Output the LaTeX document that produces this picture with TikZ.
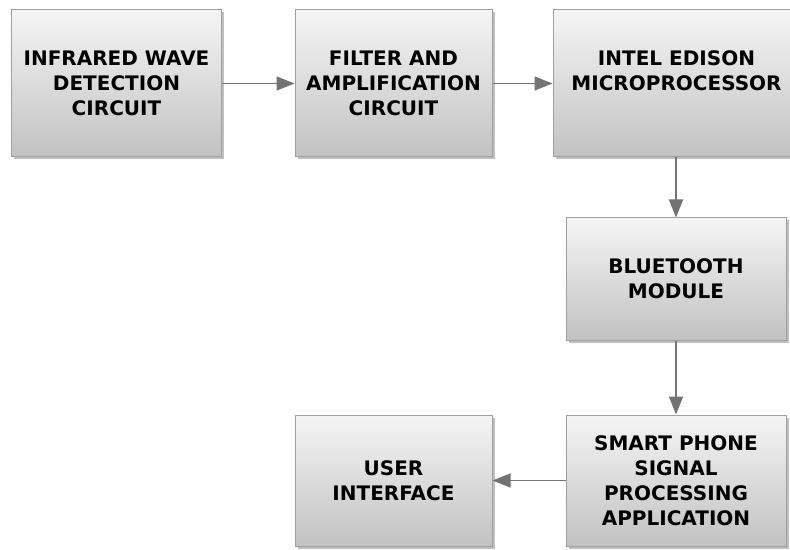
\documentclass[tikz,border=0pt]{standalone}
\usepackage{fontspec}
\setmainfont{DejaVu Sans}
\usetikzlibrary{arrows.meta,shadows}
\begin{document}
\begin{tikzpicture}[x=1bp,y=-1bp,
  blk/.style={draw=gray!75,line width=1bp,top color=white!96!black,bottom color=black!24,
    drop shadow={shadow xshift=2.5bp,shadow yshift=-2.5bp,fill=black!45,opacity=0.55},
    align=center,font=\bfseries\fontsize{20bp}{25bp}\selectfont,text=black,inner sep=0pt},
  conn/.style={draw=gray!90!black,line width=1.5bp,-{Triangle[length=18bp,width=14bp]}}]
\useasboundingbox (0,0) rectangle (790,550);
\clip (0,0) rectangle (790,550);
\fill[white] (0,0) rectangle (790,550);
\node[blk,minimum width=209bp,minimum height=147bp] (b1) at (116.5,83.5) {INFRARED WAVE\\DETECTION\\CIRCUIT};
\node[blk,minimum width=197bp,minimum height=147bp] (b2) at (393.5,83.5) {FILTER AND\\AMPLIFICATION\\CIRCUIT};
\node[blk,minimum width=247bp,minimum height=147bp] (b3) at (676.5,83.5) {INTEL EDISON\\MICROPROCESSOR\\\mbox{}};
\node[blk,minimum width=220bp,minimum height=122bp] (b4) at (676,279) {BLUETOOTH\\MODULE};
\node[blk,minimum width=220bp,minimum height=131bp] (b5) at (676,480.5) {SMART PHONE\\SIGNAL\\PROCESSING\\APPLICATION};
\node[blk,minimum width=197bp,minimum height=131bp] (b6) at (393.5,480.5) {USER\\INTERFACE};
\draw[conn] (b1.east) -- (b2.west);
\draw[conn] (b2.east) -- (b3.west);
\draw[conn] (b3.south -| b4.north) -- (b4.north);
\draw[conn] (b4.south) -- (b5.north);
\draw[conn] (b5.west) -- (b6.east);
\end{tikzpicture}
\end{document}
